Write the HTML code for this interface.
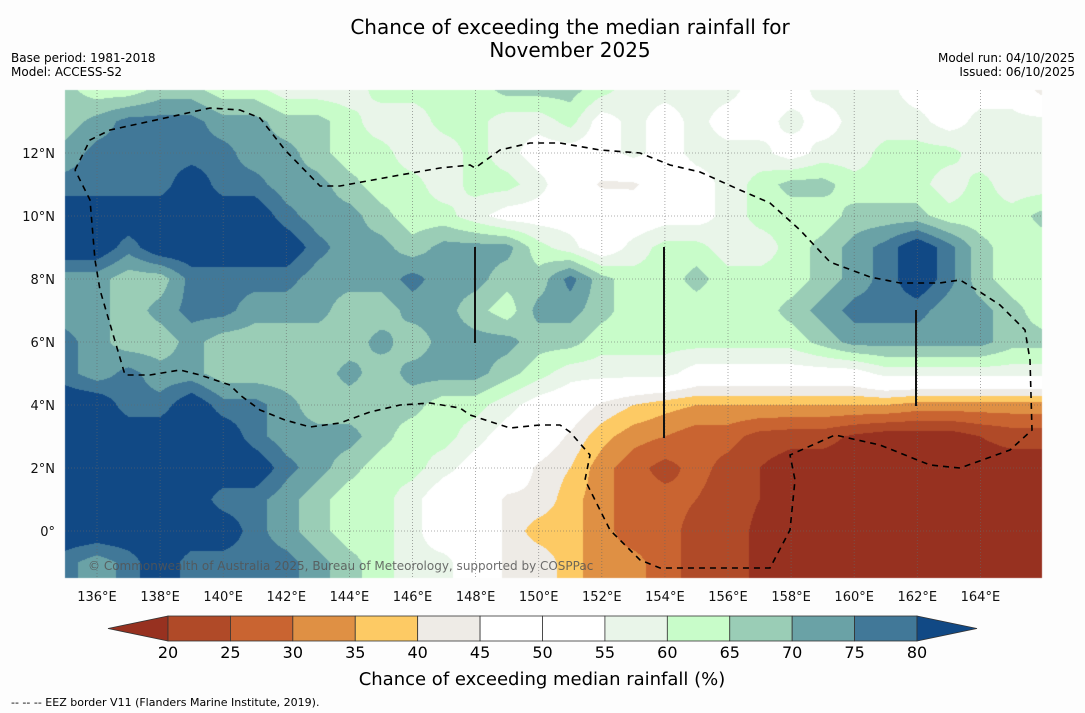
<!DOCTYPE html>
<html><head><meta charset="utf-8">
<style>
body{margin:0;background:#fdfdfd;font-family:"DejaVu Sans","Liberation Sans",sans-serif;}
#wrap{position:relative;width:1085px;height:713px;overflow:hidden;background:#fdfdfd;}
canvas,svg{position:absolute;left:0;top:0;}
svg text{font-family:"DejaVu Sans","Liberation Sans",sans-serif;}
</style></head><body>
<div id="wrap">
<canvas id="field" width="1085" height="713"></canvas>
<svg id="ov" width="1085" height="713"></svg>
</div>
<script>
// longitude nodes 135..166, one array per latitude (14N .. -2)
const lons=[135,136,137,138,139,140,141,142,143,144,145,146,147,148,149,150,151,152,153,154,155,156,157,158,159,160,161,162,163,164,165,166];
const lats=[14,13,12,11,10,9,8,7,6,5,4,3,2,1,0,-1,-2];
const lat14=[67,62,62,67,67,62,62,57,57,57,62,62,62,62,67,67,67,62,57,57,57,57,52,52,57,57,57,52,52,52,52,42];
const lat13=[67,72,77,77,77,72,72,67,67,62,57,57,62,62,57,57,62,52,57,52,57,52,52,57,52,57,57,57,52,57,57,57];
const lat12=[72,77,77,77,77,77,72,72,67,62,62,57,57,62,57,52,52,52,57,52,57,57,57,52,57,57,62,62,62,57,57,57];
const lat11=[77,77,77,77,85,77,77,72,72,67,62,62,57,62,62,57,50,44,44,50,52,57,62,67,67,62,62,62,57,62,57,57];
const lat10=[85,85,85,85,85,85,85,77,72,72,67,62,62,57,52,52,52,52,50,52,52,57,62,62,62,67,67,67,62,62,62,67];
const lat9=[85,85,77,85,85,85,85,85,77,72,72,67,72,72,72,62,57,50,57,62,62,57,57,62,67,72,77,85,77,67,62,62];
const lat8=[72,72,67,67,77,77,77,77,72,72,72,77,72,72,67,67,77,67,62,62,67,62,62,62,67,72,77,85,77,67,62,62];
const lat7=[72,72,67,72,77,77,72,72,72,67,67,72,72,67,62,72,72,67,62,62,62,62,62,67,72,77,77,77,72,72,67,62];
const lat6=[77,72,67,67,72,67,67,67,67,67,72,67,72,72,72,67,67,62,62,62,62,62,62,62,67,72,72,72,72,72,67,67];
const lat5=[77,72,77,72,72,67,67,67,67,72,67,72,72,72,67,62,57,57,57,57,52,52,52,52,52,52,57,57,57,57,57,57];
const lat4=[85,85,77,77,85,77,77,72,67,67,67,67,62,62,57,52,50,44,40,37,35,35,35,35,35,35,35,33,33,33,33,33];
const lat3=[85,85,85,85,85,85,77,72,72,72,67,62,62,57,52,50,44,37,32,30,27,27,23,22,22,19,17,17,17,20,22,22];
const lat2=[85,85,85,85,85,85,85,77,72,67,62,62,57,52,50,44,40,32,27,23,27,23,20,17,17,17,17,17,17,17,17,17];
const lat1=[85,85,85,85,85,77,77,72,67,62,62,57,50,50,44,44,37,32,27,27,25,22,20,17,17,17,17,17,17,17,17,17];
const lat0=[85,85,85,85,85,85,77,72,67,62,62,57,50,50,44,37,37,32,27,27,23,22,19,17,17,17,17,17,17,17,17,17];
const latm1=[77,72,77,85,77,77,77,77,72,67,62,57,57,50,44,44,37,32,32,27,23,22,19,17,17,17,17,17,17,17,17,17];
const latm2=[77,72,77,85,77,77,77,77,72,67,62,57,57,50,44,44,37,32,32,27,23,22,19,17,17,17,17,17,17,17,17,17];
const grid=[lat14,lat13,lat12,lat11,lat10,lat9,lat8,lat7,lat6,lat5,lat4,lat3,lat2,lat1,lat0,latm1,latm2];
const levels=[20,25,30,35,40,45,50,55,60,65,70,75,80];
const colors=["#973120","#b04a28","#c96431","#df9044","#fdca64","#eeebe6","#ffffff","#ffffff","#e9f5e9","#c8fcc9","#9acdb6","#6aa2a6","#417898","#114985"];
const xTicks=[136,138,140,142,144,146,148,150,152,154,156,158,160,162,164];
const yTicks=[12,10,8,6,4,2,0];

const X0=65,X1=1042,Y0=90,Y1=578;
function xs(lon){return 97+(lon-136)*31.55;}
function ys(lat){return 531-lat*31.5;}
function lonOf(x){return 136+(x-97)/31.55;}
function latOf(y){return (531-y)/31.5;}
function classify(v){let i=0;while(i<levels.length&&v>=levels[i])i++;return i;}

const ctx=document.getElementById('field').getContext('2d');
const rgb=colors.map(c=>[parseInt(c.slice(1,3),16),parseInt(c.slice(3,5),16),parseInt(c.slice(5,7),16)]);
const W=X1-X0,H=Y1-Y0;
const img=ctx.createImageData(W,H);
for(let py=0;py<H;py++){
  const lat=latOf(Y0+py+0.5);
  let fy=(lats[0]-lat);let j=Math.min(Math.max(Math.floor(fy),0),lats.length-2);let ty=fy-j;
  for(let px=0;px<W;px++){
    const lon=lonOf(X0+px+0.5);
    let fx=lon-lons[0];let i=Math.min(Math.max(Math.floor(fx),0),lons.length-2);let tx=fx-i;
    const v=(grid[j][i]*(1-tx)+grid[j][i+1]*tx)*(1-ty)+(grid[j+1][i]*(1-tx)+grid[j+1][i+1]*tx)*ty;
    const c=rgb[classify(v)];const k=(py*W+px)*4;
    img.data[k]=c[0];img.data[k+1]=c[1];img.data[k+2]=c[2];img.data[k+3]=255;
  }
}
ctx.putImageData(img,X0,Y0);

const NS='http://www.w3.org/2000/svg';
const svg=document.getElementById('ov');
function mk(tag,attrs,txt){const e=document.createElementNS(NS,tag);for(const k in attrs)e.setAttribute(k,attrs[k]);if(txt!==undefined)e.textContent=txt;svg.appendChild(e);return e;}

xTicks.forEach(l=>{
  const g=mk('line',{x1:xs(l),x2:xs(l),y1:Y0,y2:Y1,stroke:'#666','stroke-width':0.8,'stroke-dasharray':'1,2','stroke-opacity':0.7});
  
  
  const t=mk('text',{x:xs(l),y:601,'text-anchor':'middle','font-size':13,fill:'#111'},l+'°E');
  
  
});
yTicks.forEach(l=>{
  const g=mk('line',{x1:X0,x2:X1,y1:ys(l),y2:ys(l),stroke:'#666','stroke-width':0.8,'stroke-dasharray':'1,2','stroke-opacity':0.7});
  
  
  const t=mk('text',{x:55,y:ys(l)+5,'text-anchor':'end','font-size':13,fill:'#111'},l===0?'0°':l+'°N');
  
  
});

const eez="75,170 90,140 110,130 165,118 210,108 240,110 260,118 285,150 320,186 340,186 400,175 440,168 470,165 475,168 500,150 530,143 560,143 600,150 640,153 670,165 700,172 740,190 770,203 800,230 830,262 870,277 900,283 940,283 960,280 980,292 1000,305 1025,330 1030,360 1032,430 1010,450 960,468 930,465 880,445 835,435 790,455 795,480 790,530 770,568 660,568 640,560 610,530 585,480 590,455 570,432 560,425 540,425 510,428 470,415 460,408 430,403 400,405 370,412 340,423 310,427 285,420 260,410 240,395 230,385 200,375 180,370 150,375 125,375 100,290 95,260 90,200 75,170";
const pl=mk('polyline',{points:eez,fill:'none',stroke:'#000','stroke-width':1.6,'stroke-dasharray':'6,5'});


[[475,247,343],[664,247,438],[916,310,406]].forEach(s=>{
  const l=mk('line',{x1:s[0],x2:s[0],y1:s[1],y2:s[2],stroke:'#111','stroke-width':2});
  
  
});
const cp=mk('text',{x:88,y:570,'font-size':12,fill:'#555','fill-opacity':0.85},'© Commonwealth of Australia 2025, Bureau of Meteorology, supported by COSPPac');



const t1=mk('text',{x:570,y:34,'text-anchor':'middle','font-size':20,fill:'#000'},'Chance of exceeding the median rainfall for');


const t2=mk('text',{x:570,y:57,'text-anchor':'middle','font-size':20,fill:'#000'},'November 2025');


[['Base period: 1981-2018',62,'start',11],['Model: ACCESS-S2',76,'start',11],['Model run: 04/10/2025',62,'end',1075],['Issued: 06/10/2025',76,'end',1075]].forEach(a=>{
  const e=mk('text',{x:a[3],y:a[1],'text-anchor':a[2],'font-size':12,fill:'#000'},a[0]);
  
  
});

const CB0=168,CB1=917,CBY=616,CBH=25,bw=(CB1-CB0)/12;
const lt=mk('polygon',{points:`${CB0},${CBY} 108,${CBY+CBH/2} ${CB0},${CBY+CBH}`,fill:colors[0],stroke:'#333','stroke-width':0.8});


for(let i=0;i<12;i++){
  const r=mk('rect',{x:CB0+i*bw,y:CBY,width:bw,height:CBH,fill:colors[i+1],stroke:'#333','stroke-width':0.8});
  
  
}
const rt=mk('polygon',{points:`${CB1},${CBY} 977,${CBY+CBH/2} ${CB1},${CBY+CBH}`,fill:colors[13],stroke:'#333','stroke-width':0.8});


levels.forEach((lv,i)=>{
  const t=mk('text',{x:CB0+i*bw,y:658,'text-anchor':'middle','font-size':16,fill:'#000'},lv);
  
  
});
const ct=mk('text',{x:542,y:685,'text-anchor':'middle','font-size':18,fill:'#000'},'Chance of exceeding median rainfall (%)');


const ft=mk('text',{x:11,y:706,'font-size':11,fill:'#000'},'--  --  -- EEZ border V11 (Flanders Marine Institute, 2019).');


</script>
</body></html>
